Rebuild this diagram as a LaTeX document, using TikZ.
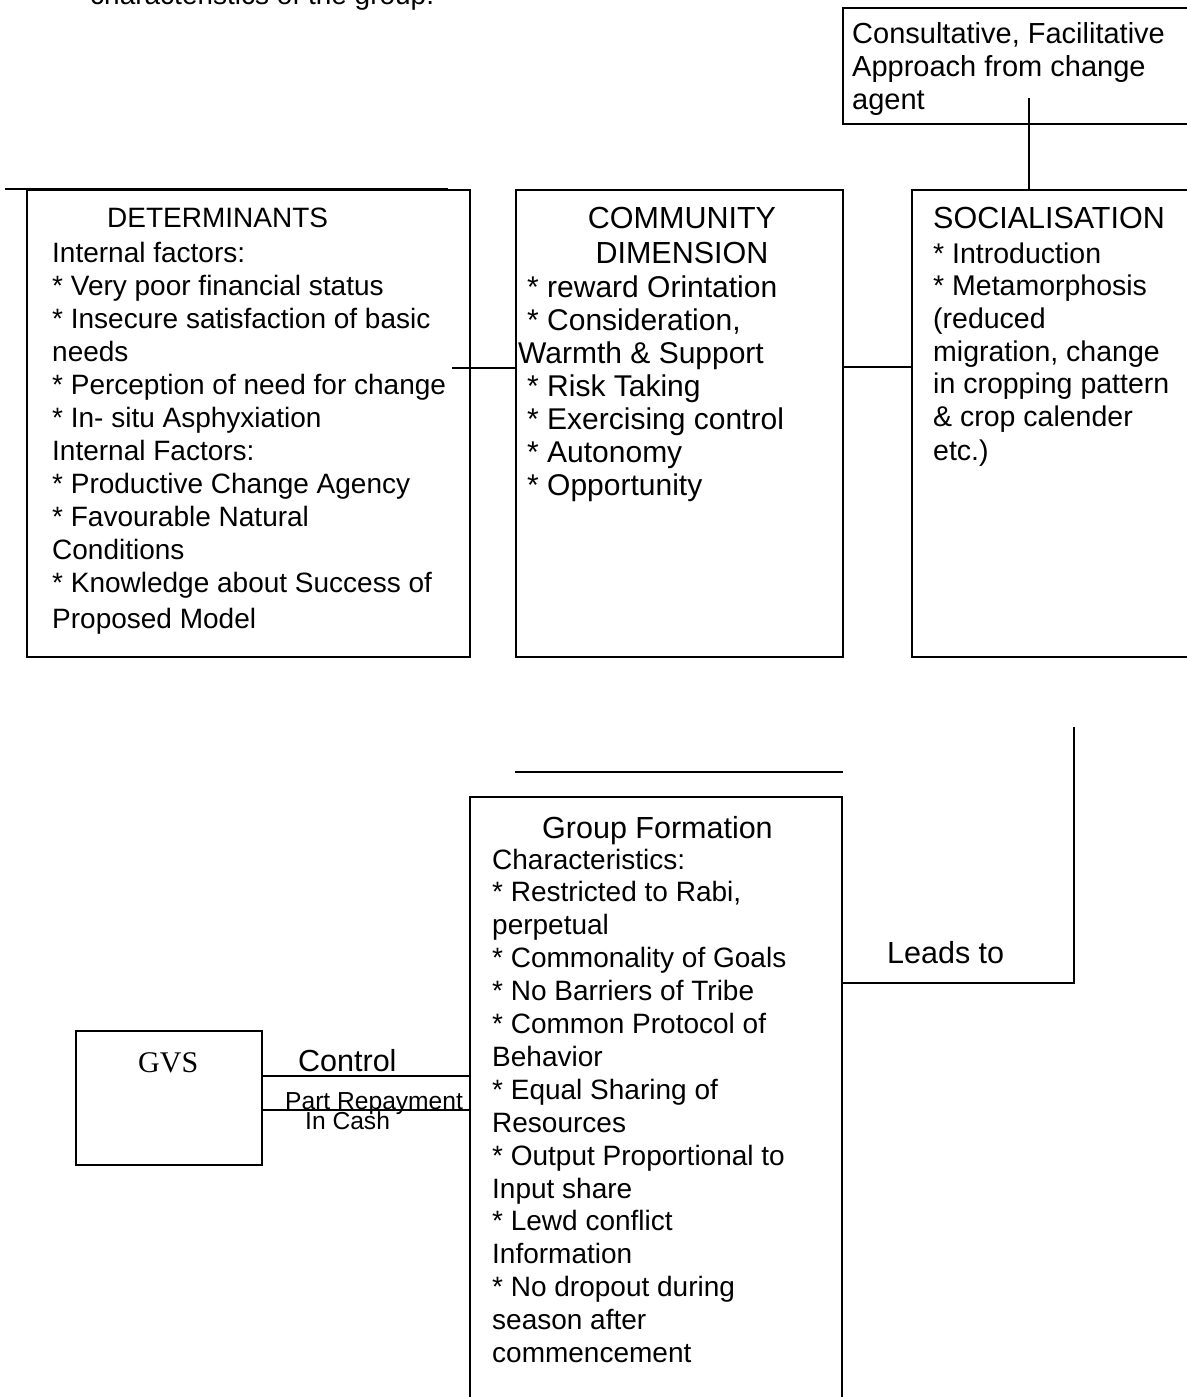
\documentclass[tikz,border=0pt]{standalone}
\usepackage{fontspec}
\setmainfont{Liberation Sans}
\newfontfamily\timesf{Liberation Serif}
\newcommand\mlines[3]{\vtop{\fontsize{#1}{#2}\selectfont\lineskiplimit=-100pt\lineskip=0pt\halign{##\hfil\cr#3\crcr}}}
\newcommand\mcenter[3]{\vtop{\fontsize{#1}{#2}\selectfont\lineskiplimit=-100pt\lineskip=0pt\halign{\hfil##\hfil\cr#3\crcr}}}
\newcommand\lsp{\hspace*{9pt}}
\begin{document}
\begin{tikzpicture}[x=1pt,y=-1pt,
  box/.style={draw, line width=2pt, inner sep=0pt, outer sep=0pt, anchor=north west},
  txt/.style={inner sep=0pt, anchor=base west},
  conn/.style={line width=2pt}]
\fill[white] (0,0) rectangle (1186,1397);
\useasboundingbox (0,0) rectangle (1186,1397);

% cut-off text at the top
\node[txt] (top) at (90,5) {\fontsize{28}{33}\selectfont characteristics of the group.};

% boxes
\node[box, minimum width=420pt, minimum height=116pt] (cons) at (843,8) {};
\node[box, minimum width=443pt, minimum height=467pt] (det) at (27,190) {};
\node[box, minimum width=327pt, minimum height=467pt] (com) at (516,190) {};
\node[box, minimum width=338pt, minimum height=467pt] (soc) at (912,190) {};
\node[box, minimum width=372pt, minimum height=700pt] (gf) at (470,797) {};
\node[box, minimum width=186pt, minimum height=134pt] (gvs) at (76,1031) {};

% texts in boxes
\node[txt] (consT) at (852,44) {\mlines{29}{33}{Consultative, Facilitative\cr Approach from change\cr agent}};

\node[txt] (detH) at (107,227) {\mlines{28}{33}{DETERMINANTS}};
\node[txt] (detT) at (52,262) {\mlines{28}{33}{Internal factors:\cr
* Very poor financial status\cr
* Insecure satisfaction of basic\cr
needs\cr
* Perception of need for change\cr
* In- situ Asphyxiation\cr
Internal Factors:\cr
* Productive Change Agency\cr
* Favourable Natural\cr
Conditions\cr
* Knowledge about Success of\cr\noalign{\vskip3pt}
Proposed Model}};

\node[anchor=base, inner sep=0pt] (comH) at (682,228) {\mcenter{30.5}{35}{COMMUNITY\cr DIMENSION}};
\node[txt] (comT) at (518,297) {\mlines{30}{33}{\lsp* reward Orintation\cr
\lsp* Consideration,\cr
Warmth \& Support\cr
\lsp* Risk Taking\cr
\lsp* Exercising control\cr
\lsp* Autonomy\cr
\lsp* Opportunity}};

\node[txt] (socH) at (933,228) {\mlines{30.5}{33}{SOCIALISATION}};
\node[txt] (socT) at (933,263) {\mlines{28.5}{32.7}{* Introduction\cr
* Metamorphosis\cr
(reduced\cr
migration, change\cr
in cropping pattern\cr
\& crop calender\cr\noalign{\vskip1pt}
etc.)}};

\node[txt] (gfH) at (542,838) {\mlines{30.5}{33}{Group Formation}};
\node[txt] (gfT) at (492,869) {\mlines{28}{32.9}{Characteristics:\cr
* Restricted to Rabi,\cr
perpetual\cr
* Commonality of Goals\cr
* No Barriers of Tribe\cr
* Common Protocol of\cr
Behavior\cr
* Equal Sharing of\cr
Resources\cr
* Output Proportional to\cr
Input share\cr
* Lewd conflict\cr
Information\cr
* No dropout during\cr
season after\cr
commencement}};

\node[txt] (gvsT) at (138,1072) {\timesf\fontsize{30}{33}\selectfont GVS};

% connectors
\coordinate (c1) at (1029,98);
\draw[conn] (c1) -- (c1 |- soc.north);
\coordinate (tl1) at (5,189);
\coordinate (tl2) at (448,189);
\draw[conn] (tl1) -- (tl2);
\coordinate (d1) at (452,368);
\draw[conn] (d1) -- (d1 -| com.west);
\coordinate (cs) at (0,367);
\draw[conn] (com.east |- cs) -- (soc.west |- cs);
\coordinate (g1) at (515,772);
\coordinate (g2) at (843,772);
\draw[conn] (g1) -- (g2);
\coordinate (lt) at (1074,727);
\coordinate (ltr) at (0,983);
\draw[conn] (lt) |- (gf.east |- ltr);
\coordinate (ctl) at (0,1076);
\draw[conn] (gvs.east |- ctl) -- (gf.west |- ctl);
\coordinate (prl) at (0,1110);
\draw[conn] (gvs.east |- prl) -- (gf.west |- prl);

% connector labels
\node[txt] (lbl1) at (887,963) {\fontsize{30.5}{33}\selectfont Leads to};
\node[txt] (lbl2) at (298,1071) {\fontsize{30.5}{33}\selectfont Control};
\node[txt] (lbl3) at (285,1109) {\fontsize{24.6}{26}\selectfont Part Repayment};
\node[txt] (lbl4) at (305,1129) {\fontsize{24.6}{26}\selectfont In Cash};
\end{tikzpicture}
\end{document}
